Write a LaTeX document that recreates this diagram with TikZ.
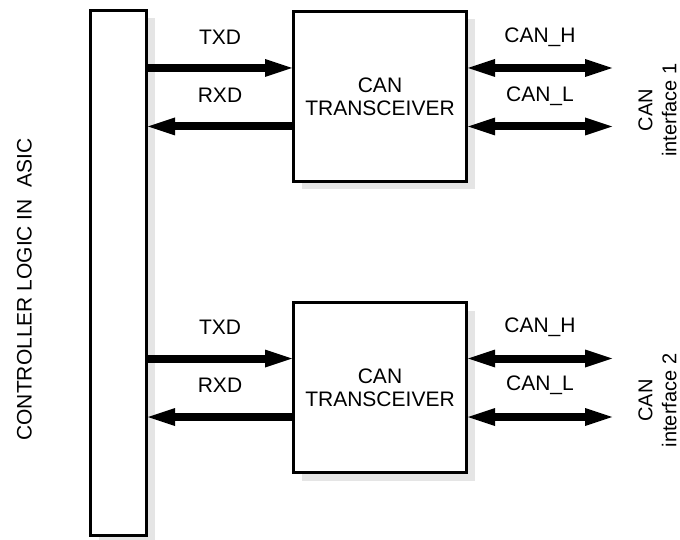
\documentclass[tikz,border=0pt]{standalone}
\usepackage{fontspec}
\setmainfont{Liberation Sans}
\usetikzlibrary{arrows.meta,shadows}
\definecolor{shadowgray}{gray}{0.9}
\begin{document}
\begin{tikzpicture}[x=1pt,y=-1pt,
  lbl/.style={font=\fontsize{21}{23}\selectfont, inner sep=0pt},
  box/.style={draw, line width=3pt, fill=white, inner sep=0pt,
    drop shadow={shadow xshift=8pt, shadow yshift=-8pt, fill=shadowgray, opacity=1}},
  tip/.tip={Triangle[length=27pt,width=18pt,line width=0pt]},
  sig/.style={line width=8pt, -tip},
  bus/.style={line width=8pt, tip-tip}]
\useasboundingbox (0,0) rectangle (680,540);

% controller block
\node[box, minimum width=56pt, minimum height=525pt] (ctrl) at (118.5,273) {};
\node[lbl, rotate=90] (ctrltxt) at (24.5,289.5) {CONTROLLER LOGIC IN\ \ ASIC};

% transceivers
\node[box, lbl, minimum width=173pt, minimum height=170pt, align=center] (t1) at (380,96.5) {CAN\\TRANSCEIVER};
\node[box, lbl, minimum width=173pt, minimum height=170pt, align=center] (t2) at (380,387.5) {CAN\\TRANSCEIVER};

% signal levels
\coordinate (tx1) at (0,68);
\coordinate (rx1) at (0,126.5);
\coordinate (tx2) at (0,358.5);
\coordinate (rx2) at (0,417);
\coordinate (h1) at (612,68);
\coordinate (l1) at (612,126.5);
\coordinate (h2) at (612,358.5);
\coordinate (l2) at (612,417);

% connectors
\draw[sig] (ctrl.east |- tx1) -- (t1.west |- tx1);
\draw[sig] (t1.west |- rx1) -- (ctrl.east |- rx1);
\draw[bus] (t1.east |- h1) -- (h1);
\draw[bus] (t1.east |- l1) -- (l1);
\draw[sig] (ctrl.east |- tx2) -- (t2.west |- tx2);
\draw[sig] (t2.west |- rx2) -- (ctrl.east |- rx2);
\draw[bus] (t2.east |- h2) -- (h2);
\draw[bus] (t2.east |- l2) -- (l2);

% labels
\node[lbl] (txd1) at (220,37.5) {TXD};
\node[lbl] (rxd1) at (220,95.5) {RXD};
\node[lbl] (canh1) at (540,37.5) {CAN\_H};
\node[lbl] (canl1) at (540,96) {CAN\_L};
\node[lbl] (txd2) at (220,327.5) {TXD};
\node[lbl] (rxd2) at (220,385.5) {RXD};
\node[lbl] (canh2) at (540,327.5) {CAN\_H};
\node[lbl] (canl2) at (540,385.5) {CAN\_L};

\node[font=\fontsize{20}{24}\selectfont, inner sep=0pt, rotate=90, align=center] (if1) at (657.5,110) {CAN\\interface 1};
\node[font=\fontsize{20}{24}\selectfont, inner sep=0pt, rotate=90, align=center] (if2) at (657.5,400.5) {CAN\\interface 2};
\end{tikzpicture}
\end{document}
